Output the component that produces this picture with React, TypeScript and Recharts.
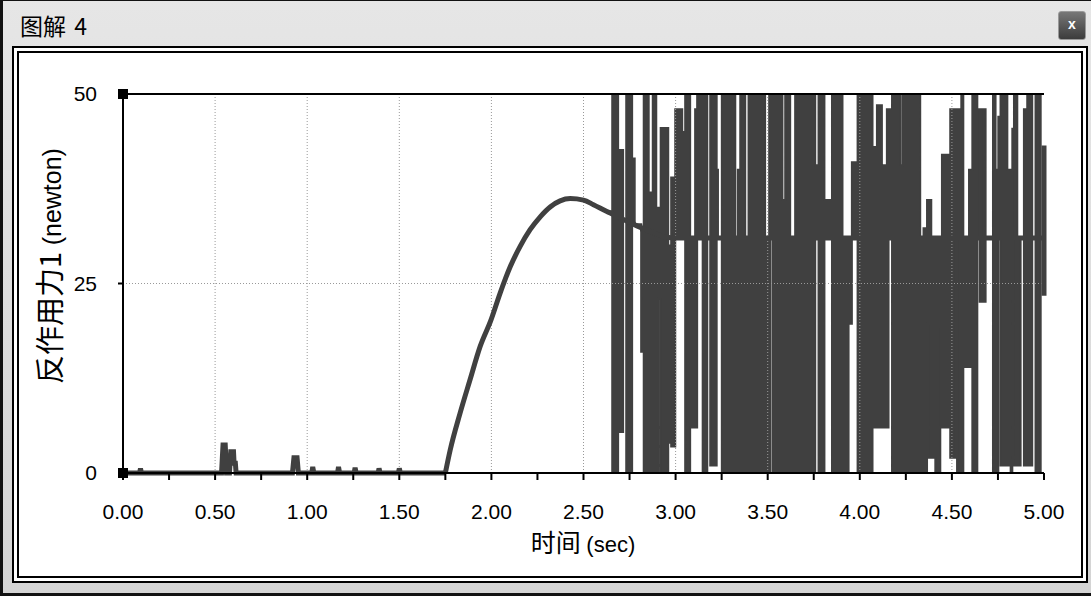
import React from 'react';
import { ComposedChart, Line, Area, XAxis, YAxis, ReferenceLine } from 'recharts';

// 静止段与小尖峰 (秒, newton)
const restT = [
  0, 0.09, 0.095, 0.1, 0.535, 0.543, 0.555, 0.562, 0.578, 0.585, 0.6, 0.603, 0.61, 0.614,
  0.92, 0.928, 0.945, 0.952, 1.025, 1.03, 1.036, 1.165, 1.17, 1.176, 1.255, 1.26, 1.266,
  1.385, 1.39, 1.396, 1.495, 1.5, 1.506, 1.75,
];
const restV = [
  0, 0, 0.6, 0, 0, 3.7, 3.7, 0, 0, 2.8, 2.8, 1.3, 1.3, 0,
  0, 2.0, 2.0, 0, 0, 0.8, 0, 0, 0.8, 0, 0, 0.7, 0,
  0, 0.6, 0, 0, 0.6, 0, 0,
];

// 上升曲线与基线
const curveT = [
  1.75, 1.776, 1.83, 1.884, 1.939, 1.998, 2.047, 2.102, 2.156, 2.21, 2.265, 2.319, 2.373,
  2.428, 2.5, 2.554, 2.627, 2.663, 2.72, 2.79, 2.87, 2.95, 3.0, 5.0,
];
const curveV = [
  0, 3.0, 7.9, 12.3, 16.7, 20.2, 23.7, 27.2, 29.9, 32.1, 33.8, 35.1, 35.9,
  36.2, 36.0, 35.4, 34.5, 34.1, 33.4, 32.6, 31.8, 31.1, 31, 31,
];
const endT = [5.0, 5.0];
const endV = [43.2, 23.4];

// 振荡部分: 每段起点时间与覆盖范围 (lo = hi 表示空白)
const bandT = [
  2.618, 2.656, 2.688, 2.715, 2.732, 2.764, 2.778, 2.813, 2.827, 2.854, 2.876, 2.895, 2.908,
  2.919, 2.96, 2.976, 2.998, 3.036, 3.052, 3.079, 3.106, 3.117, 3.147, 3.172, 3.188, 3.223,
  3.23, 3.251, 3.324, 3.338, 3.351, 3.378, 3.396, 3.486, 3.508, 3.513, 3.526, 3.58, 3.595,
  3.622, 3.649, 3.758, 3.776, 3.808, 3.849, 3.906, 3.939, 3.957, 3.988, 4.069, 4.093, 4.12,
  4.147, 4.156, 4.175, 4.22, 4.232, 4.328, 4.346, 4.365, 4.373, 4.388, 4.41, 4.437, 4.446,
  4.491, 4.518, 4.528, 4.551, 4.562, 4.593, 4.611, 4.638, 4.651, 4.661, 4.683, 4.723, 4.737,
  4.752, 4.764, 4.801, 4.819, 4.828, 4.837, 4.855, 4.873, 4.891, 4.909, 4.936, 4.954, 4.982, 5.0,
];
const bandLo = [
  34.5, 0, 5.4, 33.4, 0, 33, 32.8, 16, 0, 0, 0, 0, 23,
  0, 4, 3.5, 31, 31, 0, 6, 6, 31, 0, 31, 1, 31,
  31, 0, 0, 0, 0, 0, 0, 0, 0, 31, 0, 0, 0,
  0, 0, 31, 0, 31, 0, 0, 19.7, 31, 0, 6, 6, 6,
  6, 31, 0, 0, 0, 0, 0, 19.7, 2, 2, 0, 19, 6,
  2, 31, 0, 0, 14, 14, 0, 31, 22.6, 22.6, 31, 0, 0,
  31, 1, 1, 0, 31, 1, 1, 31, 1, 1, 31, 0, 31, 31,
];
const bandHi = [
  34.5, 50, 42.6, 33.4, 50, 41.5, 32.8, 32, 50, 37, 50, 35, 35,
  45.5, 30, 39, 48, 45, 50, 31, 48, 50, 50, 31, 50, 40,
  31, 50, 31, 40, 50, 31, 50, 31, 50, 50, 50, 36, 50,
  31, 50, 40.6, 50, 36, 50, 31, 31, 41, 50, 43, 48.5, 40.6,
  48, 48, 50, 40.6, 50, 31, 32.3, 36, 36, 31, 31, 31, 42,
  48, 48, 48, 50, 31, 40, 50, 48, 31, 48, 31, 50, 40,
  47, 50, 40, 31, 45.4, 50, 31, 31, 48, 50, 31, 50, 31, 31,
];

const xTicks = [0, 0.25, 0.5, 0.75, 1, 1.25, 1.5, 1.75, 2, 2.25, 2.5, 2.75, 3, 3.25, 3.5, 3.75, 4, 4.25, 4.5, 4.75, 5];
const gridX = [0.5, 1, 1.5, 2, 2.5, 3, 3.5, 4, 4.5];
const yTicks = [0, 25, 50];
const markedY = [0, 50];

const restData = restT.map((t, i) => ({ t, v: restV[i] }));
const curveData = curveT.map((t, i) => ({ t, v: curveV[i] }));
const endData = endT.map((t, i) => ({ t, v: endV[i] }));
const bandData = bandT.map((t, i) => ({ t, r: [bandLo[i], bandHi[i]] }));

const ink = '#404040';
const latin = '"Liberation Sans", Arial, sans-serif';
const cjk = '"Noto Sans CJK SC", "Liberation Sans", sans-serif';

const YTick = (props: any) => {
  const { x, y, payload } = props;
  return (
    <g>
      <text x={x} y={y} dy={7} textAnchor="end" fontSize={21} fontFamily={latin} fill="#000">
        {payload.value}
      </text>
      {markedY.includes(payload.value) && (
        <rect x={x + 21} y={y - 5} width={10} height={10} fill="#000" />
      )}
    </g>
  );
};

export default function App() {
  return (
    <div style={{ position: 'fixed', left: 0, top: 0, width: 1091, height: 596, background: 'linear-gradient(#e6e6e6, #d4d4d4)', overflow: 'hidden' }}>
      <div style={{ position: 'absolute', left: 0, top: 0, width: 3, height: 596, background: '#111' }} />
      <div style={{ position: 'absolute', left: 0, top: 0, width: 1091, height: 1, background: '#111' }} />
      <div style={{ position: 'absolute', left: 0, top: 593, width: 1091, height: 3, background: '#111' }} />
      <div style={{ position: 'absolute', left: 20, top: 8, fontFamily: cjk, fontSize: 23, color: '#000', wordSpacing: 3 }}>图解 4</div>
      <div style={{ position: 'absolute', left: 1058, top: 11, width: 26, height: 27, borderRadius: 3, border: '1px solid #999', background: 'linear-gradient(#777, #3c3c3c)', color: '#fff', fontFamily: latin, fontWeight: 'bold', fontSize: 14, lineHeight: '25px', textAlign: 'center' }}>x</div>
      <div style={{ position: 'absolute', left: 12, top: 46, width: 1072, height: 533, border: '2px solid #000', background: '#fff' }} />
      <div style={{ position: 'absolute', left: 17, top: 51, width: 1062, height: 523, border: '2px solid #000' }} />
      <div style={{ position: 'absolute', left: 0, top: 0 }}>
        <ComposedChart width={1091} height={596} margin={{ top: 94, right: 47, bottom: 73, left: 63 }}>
          <XAxis
            type="number"
            dataKey="t"
            domain={[0, 5]}
            ticks={xTicks}
            tickFormatter={(v: number) => ((v * 2) % 1 === 0 ? v.toFixed(2) : '')}
            tick={{ fill: '#000', fontSize: 21, fontFamily: latin }}
            tickSize={7}
            tickMargin={24}
            height={50}
            axisLine={{ stroke: '#000', strokeWidth: 2 }}
            tickLine={{ stroke: '#000', strokeWidth: 2 }}
            allowDuplicatedCategory={false}
          />
          <YAxis
            type="number"
            domain={[0, 50]}
            ticks={yTicks}
            tick={<YTick />}
            tickSize={5}
            tickMargin={21}
            width={60}
            axisLine={{ stroke: '#000', strokeWidth: 2 }}
            tickLine={{ stroke: '#000', strokeWidth: 2 }}
          />
          {gridX.map((g) => (
            <ReferenceLine key={g} x={g} stroke="#999" strokeDasharray="1 2" />
          ))}
          <ReferenceLine y={25} stroke="#999" strokeDasharray="1 2" />
          <ReferenceLine y={50} stroke="#000" strokeWidth={2} />
          <Area
            data={bandData}
            dataKey="r"
            type="stepAfter"
            stroke={ink}
            strokeWidth={2}
            fill={ink}
            fillOpacity={1}
            dot={false}
            activeDot={false}
            isAnimationActive={false}
          />
          <Line
            data={restData}
            dataKey="v"
            type="linear"
            stroke={ink}
            strokeWidth={5}
            dot={false}
            activeDot={false}
            isAnimationActive={false}
          />
          <Line
            data={curveData}
            dataKey="v"
            type="monotone"
            stroke={ink}
            strokeWidth={5}
            dot={false}
            activeDot={false}
            isAnimationActive={false}
          />
          <Line
            data={endData}
            dataKey="v"
            type="linear"
            stroke={ink}
            strokeWidth={5}
            dot={false}
            activeDot={false}
            isAnimationActive={false}
          />
        </ComposedChart>
      </div>
      <div style={{ position: 'absolute', left: 0, top: 523, width: 1166, textAlign: 'center', color: '#000', whiteSpace: 'nowrap' }}>
        <span style={{ fontFamily: cjk, fontSize: 25 }}>时间 </span>
        <span style={{ fontFamily: latin, fontSize: 22 }}>(sec)</span>
      </div>
      <div style={{ position: 'absolute', left: 52, top: 262, width: 0, height: 0 }}>
        <div style={{ position: 'absolute', left: -160, top: -20, width: 320, textAlign: 'center', transform: 'rotate(-90deg)', color: '#000', whiteSpace: 'nowrap', lineHeight: '40px' }}>
          <span style={{ fontFamily: cjk, fontSize: 29 }}>反作用力1 </span>
          <span style={{ fontFamily: latin, fontSize: 25 }}>(newton)</span>
        </div>
      </div>
    </div>
  );
}
